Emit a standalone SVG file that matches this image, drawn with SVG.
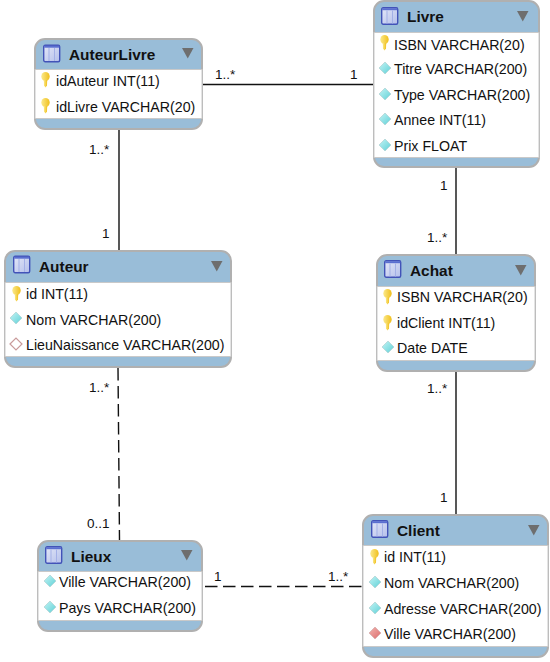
<svg xmlns="http://www.w3.org/2000/svg" width="550" height="662" viewBox="0 0 550 662">
<style>
text{font-family:"Liberation Sans",Arial,sans-serif;font-size:14.2px;fill:#111}
.t{font-weight:bold;font-size:15.4px}
.o{fill:#99bdd8;stroke:#b0b0b0;stroke-width:2}
.b{fill:#fff;stroke:#c9c9c9;stroke-width:1}
.c{fill:none;stroke:#111;stroke-width:1.4}
.d{stroke-dasharray:12.500 5.500}
.l{font-size:13.5px}
</style>
<defs>
<linearGradient id="ig" x1="0" y1="0" x2="1" y2="1"><stop offset="0" stop-color="#e4e8f8"/><stop offset="1" stop-color="#b4bfea"/></linearGradient>
<linearGradient id="kg" x1="0" y1="0" x2="1" y2="0"><stop offset="0" stop-color="#fbe98a"/><stop offset="1" stop-color="#f0bf1c"/></linearGradient>
<linearGradient id="cg" x1="0" y1="0" x2="1" y2="1"><stop offset="0" stop-color="#c4f4f5"/><stop offset="1" stop-color="#5fd0d6"/></linearGradient>
<linearGradient id="rg" x1="0" y1="0" x2="1" y2="1"><stop offset="0" stop-color="#f2b4b0"/><stop offset="1" stop-color="#dc6c6c"/></linearGradient>
<g id="ti"><rect x="0.700" y="0.700" width="16" height="16.500" rx="1.500" fill="url(#ig)" stroke="#4253b8" stroke-width="1.400"/><rect x="1.200" y="1.200" width="15" height="2" fill="#5a6fd0"/><path d="M6 3.500V16.500M11.500 3.500V16.500" stroke="#a3b0e6" stroke-width="1"/></g>
<path id="ar" d="M0 0H11.500L5.750 10.500Z" fill="#6e6e6e"/>
<g id="key"><ellipse cx="4.500" cy="4.500" rx="4.200" ry="4.500" fill="url(#kg)"/><path d="M2.800 8H6.200L6 13.500L4.500 15.500L3 13.500Z" fill="url(#kg)"/></g>
<path id="cy" d="M0 6L6 0L12 6L6 12Z" fill="url(#cg)" stroke="#b4d4d6" stroke-width="0.800"/>
<path id="rd" d="M0 6L6 0L12 6L6 12Z" fill="url(#rg)" stroke="#d6b0b0" stroke-width="0.800"/>
<path id="wh" d="M0 6L6 0L12 6L6 12Z" fill="#fff" stroke="#c99b9b" stroke-width="1.200"/>
</defs>
<g id="connectors">
<path class="c" d="M203 84.500H373"/>
<path class="c" d="M119 130V250"/>
<path class="c" d="M456 168V254"/>
<path class="c" d="M456 372V514"/>
<path class="c d" d="M118 368L119.500 540"/>
<path class="c d" d="M205 586.500H362"/>
</g>
<g id="labels">
<text class="l" x="215" y="79">1..*</text><text class="l" x="350" y="79">1</text>
<text class="l" x="89" y="154">1..*</text><text class="l" x="102" y="238">1</text>
<text class="l" x="440" y="190">1</text><text class="l" x="427" y="242">1..*</text>
<text class="l" x="427" y="393">1..*</text><text class="l" x="440" y="502">1</text>
<text class="l" x="89" y="392">1..*</text><text class="l" x="87" y="528">0..1</text>
<text class="l" x="214" y="581">1</text><text class="l" x="328" y="581">1..*</text>
</g>
<g id="AuteurLivre">
<rect class="o" x="35" y="39" width="167" height="90" rx="10"/><rect class="b" x="35" y="69.500" width="167" height="49"/>
<use href="#ti" x="43" y="44.500"/><text class="t" x="69" y="60">AuteurLivre</text><use href="#ar" x="182" y="48"/>
<use href="#key" x="41" y="72"/><text x="56" y="86">idAuteur INT(11)</text>
<use href="#key" x="41" y="98"/><text x="56" y="112">idLivre VARCHAR(20)</text>
</g>
<g id="Livre">
<rect class="o" x="374" y="1" width="165" height="166" rx="10"/><rect class="b" x="374" y="32.500" width="165" height="125"/>
<use href="#ti" x="381" y="7"/><text class="t" x="407" y="22">Livre</text><use href="#ar" x="517" y="11"/>
<use href="#key" x="380" y="35"/><text x="394" y="49.500">ISBN VARCHAR(20)</text>
<use href="#cy" x="379" y="62"/><text x="394" y="74">Titre VARCHAR(200)</text>
<use href="#cy" x="379" y="88"/><text x="394" y="100">Type VARCHAR(200)</text>
<use href="#cy" x="379" y="113"/><text x="394" y="125">Annee INT(11)</text>
<use href="#cy" x="379" y="139"/><text x="394" y="151">Prix FLOAT</text>
</g>
<g id="Auteur">
<rect class="o" x="5" y="251" width="226" height="116" rx="10"/><rect class="b" x="5" y="282.500" width="226" height="74"/>
<use href="#ti" x="13" y="255.500"/><text class="t" x="39" y="272">Auteur</text><use href="#ar" x="211" y="261"/>
<use href="#key" x="12" y="286"/><text x="26" y="298.500">id INT(11)</text>
<use href="#cy" x="10" y="312"/><text x="26" y="324.500">Nom VARCHAR(200)</text>
<use href="#wh" x="10" y="338"/><text x="26" y="350">LieuNaissance VARCHAR(200)</text>
</g>
<g id="Achat">
<rect class="o" x="377" y="255" width="158" height="116" rx="10"/><rect class="b" x="377" y="286.500" width="158" height="74"/>
<use href="#ti" x="384" y="260"/><text class="t" x="410" y="276">Achat</text><use href="#ar" x="515" y="265"/>
<use href="#key" x="383" y="289"/><text x="397" y="302">ISBN VARCHAR(20)</text>
<use href="#key" x="383" y="315"/><text x="397" y="328">idClient INT(11)</text>
<use href="#cy" x="382" y="341"/><text x="397" y="353">Date DATE</text>
</g>
<g id="Lieux">
<rect class="o" x="38" y="541" width="164" height="90" rx="10"/><rect class="b" x="38" y="571.500" width="164" height="49"/>
<use href="#ti" x="45" y="546"/><text class="t" x="71" y="562">Lieux</text><use href="#ar" x="181" y="550"/>
<use href="#cy" x="44" y="575"/><text x="59" y="587">Ville VARCHAR(200)</text>
<use href="#cy" x="44" y="601"/><text x="59" y="613">Pays VARCHAR(200)</text>
</g>
<g id="Client">
<rect class="o" x="363" y="515" width="185" height="142" rx="10"/><rect class="b" x="363" y="545.500" width="185" height="101"/>
<use href="#ti" x="371" y="520"/><text class="t" x="397" y="536">Client</text><use href="#ar" x="528" y="525"/>
<use href="#key" x="370" y="549"/><text x="384" y="562">id INT(11)</text>
<use href="#cy" x="369" y="576"/><text x="384" y="588">Nom VARCHAR(200)</text>
<use href="#cy" x="369" y="602"/><text x="384" y="614">Adresse VARCHAR(200)</text>
<use href="#rd" x="369" y="627"/><text x="384" y="639">Ville VARCHAR(200)</text>
</g>
</svg>
